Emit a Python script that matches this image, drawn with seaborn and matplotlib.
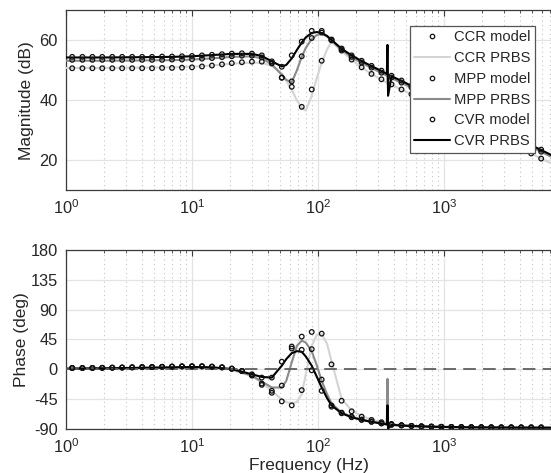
import numpy as np
import pandas as pd
import matplotlib
matplotlib.use("Agg")
import matplotlib.pyplot as plt
from matplotlib.lines import Line2D
from matplotlib.ticker import LogLocator, FixedLocator
import seaborn as sns

# ---------------- data ----------------
# model evaluation frequencies (Hz)
FREQ = [1.12, 1.35, 1.62, 1.94, 2.33, 2.79, 3.35, 4.02, 4.82, 5.79, 6.94, 8.33,
        10.0, 12.0, 14.4, 17.3, 20.7, 24.9, 29.9, 35.8, 43.0, 51.6, 61.9, 74.3,
        89.2, 107, 128, 154, 185, 222, 266, 319, 383, 460, 552, 662, 795, 954,
        1145, 1374, 1648, 1978, 2374, 2849, 3418, 4102, 4922, 5907]

CCR_MODEL_MAG = [50.7, 50.7, 50.7, 50.7, 50.7, 50.7, 50.7, 50.7, 50.7, 50.8, 50.8, 50.9,
                 51.0, 51.3, 51.6, 52.0, 52.4, 52.7, 52.9, 52.9, 52.3, 47.6, 44.5, 37.8,
                 43.6, 53.2, 60.0, 56.6, 53.6, 51.0, 48.8, 47.0, 45.3, 43.6, 42.0, 40.3,
                 38.7, 37.0, 35.4, 33.7, 32.1, 30.4, 28.8, 27.1, 25.5, 23.8, 22.2, 20.5]
MPP_MODEL_MAG = [53.5, 53.5, 53.5, 53.5, 53.5, 53.5, 53.5, 53.5, 53.5, 53.5, 53.6, 53.6,
                 53.7, 53.9, 54.1, 54.4, 54.7, 54.9, 54.9, 54.3, 52.5, 47.5, 46.3, 54.7,
                 60.8, 62.6, 60.2, 57.0, 54.5, 52.6, 50.9, 49.2, 47.6, 45.9, 44.3, 42.6,
                 41.0, 39.3, 37.7, 36.0, 34.4, 32.7, 31.1, 29.4, 27.8, 26.1, 24.5, 22.8]
CVR_MODEL_MAG = [54.5, 54.5, 54.5, 54.5, 54.5, 54.5, 54.5, 54.5, 54.5, 54.6, 54.6, 54.7,
                 54.8, 55.0, 55.2, 55.4, 55.6, 55.7, 55.6, 55.0, 53.0, 51.2, 55.0, 59.6,
                 63.2, 63.2, 60.3, 57.3, 55.0, 53.2, 51.5, 49.9, 48.2, 46.6, 44.9, 43.3,
                 41.6, 40.0, 38.3, 36.7, 35.0, 33.4, 31.7, 30.1, 28.4, 26.8, 25.1, 23.5]

CCR_MODEL_PH = [1.5, 1.5, 1.6, 1.8, 2.0, 2.2, 2.5, 2.8, 3.0, 3.3, 3.6, 3.9,
                4.0, 4.0, 3.5, 2.5, 0.5, -3, -10, -24, -36, -49, -55, -32,
                56, 53.5, 7, -48, -64, -72, -77, -80.5, -83, -85, -86, -86.7,
                -87.1, -87.4, -87.6, -87.8, -88.0, -88.1, -88.2, -88.3, -88.3, -88.4, -88.4, -88.5]
MPP_MODEL_PH = [1.5, 1.5, 1.6, 1.8, 2.0, 2.2, 2.5, 2.8, 3.0, 3.3, 3.6, 3.9,
                4.0, 4.0, 3.5, 2.5, 0.5, -3, -9, -22, -33, -25, 31, 49,
                30, -16, -55, -66, -72, -76.5, -79.5, -82, -84, -85, -86, -86.7,
                -87.1, -87.4, -87.6, -87.8, -88.0, -88.1, -88.2, -88.3, -88.3, -88.4, -88.4, -88.5]
CVR_MODEL_PH = [1.5, 1.5, 1.6, 1.8, 2.0, 2.2, 2.5, 2.8, 3.0, 3.3, 3.6, 3.9,
                4.0, 4.0, 3.5, 2.5, 0.5, -3, -8, -13, -13, 11, 34, 29,
                -2, -33, -57, -67, -73, -77, -80, -82.5, -84.5, -85.5, -86.3, -86.9,
                -87.2, -87.5, -87.7, -87.9, -88.0, -88.1, -88.2, -88.3, -88.3, -88.4, -88.4, -88.5]

# PRBS measurement frequencies (Hz)
PRBS_FREQ = [1.0, 2.0, 4.0, 7.0, 10.0, 14.4, 20.7, 29.9, 35.8, 43.0,
             51.6, 56.0, 61.9, 68.0, 74.3, 80.0, 89.2, 98.0, 107, 118,
             128, 154, 185, 222, 266, 319, 352, 356, 360, 383,
             460, 552, 795, 1145, 1648, 2374, 3418, 4922, 7100]

CCR_PRBS_MAG = [50.8, 50.8, 50.9, 51.0, 51.2, 51.6, 52.2, 52.6, 52.5, 51.5,
                49.0, 46.5, 43.5, 40.0, 37.5, 36.5, 41.5, 47.5, 52.5, 57.0,
                59.5, 56.5, 53.5, 51.0, 48.8, 46.9, 45.8, 47.5, 43.5, 45.2,
                43.6, 42.0, 38.7, 35.4, 32.1, 28.8, 25.5, 22.2, 18.9]
MPP_PRBS_MAG = [53.2, 53.2, 53.3, 53.4, 53.6, 54.0, 54.5, 54.7, 54.0, 52.0,
                48.5, 46.8, 46.0, 50.0, 54.5, 57.5, 60.5, 61.8, 62.2, 61.3,
                60.0, 56.9, 54.4, 52.5, 50.8, 49.1, 48.2, 53.0, 44.0, 47.4,
                45.8, 44.2, 40.9, 37.6, 34.3, 31.0, 27.7, 24.4, 21.1]
CVR_PRBS_MAG = [54.3, 54.3, 54.4, 54.5, 54.7, 55.1, 55.5, 55.5, 54.8, 53.0,
                51.3, 51.8, 54.0, 56.8, 59.3, 61.0, 62.5, 62.8, 62.5, 61.5,
                60.2, 57.2, 55.0, 53.1, 51.4, 49.8, 48.8, 58.5, 41.5, 48.0,
                46.5, 44.8, 41.5, 38.2, 34.9, 31.6, 28.3, 25.0, 21.7]

CCR_PRBS_PH = [0.5, 1.0, 1.6, 2.2, 2.6, 2.0, -1, -11, -21, -33,
               -46, -50, -52, -50, -38, -8, 35, 52, 53, 38,
               12, -45, -63, -71, -76.5, -80, -82, -78, -88, -83,
               -85, -86, -87.2, -87.8, -88.2, -88.4, -88.6, -88.7, -88.8]
MPP_PRBS_PH = [0.5, 1.0, 1.6, 2.3, 2.8, 2.3, -0.5, -10, -19, -28,
               -28, -18, 10, 35, 43, 40, 27, 5, -18, -38,
               -52, -66, -72, -76.5, -79.5, -82, -83.5, -15, -90, -84.2,
               -85.3, -86.2, -87.2, -87.8, -88.2, -88.4, -88.6, -88.7, -88.8]
CVR_PRBS_PH = [0.5, 1.0, 1.8, 2.5, 3.0, 2.5, 0, -8, -12, -13,
               5, 15, 24, 27, 26, 19, 5, -12, -28, -44,
               -55, -67, -73, -77, -80, -82.5, -84, -55, -90, -84.5,
               -85.5, -86.3, -87.3, -87.8, -88.2, -88.4, -88.6, -88.7, -88.8]

SERIES = ["CCR", "MPP", "CVR"]
LINE_COLORS = {"CCR": "#d4d4d4", "MPP": "#8a8a8a", "CVR": "#000000"}

# ---------------- tables ----------------
model = pd.concat([
    pd.DataFrame({"f": FREQ, "mag": m, "ph": p, "s": s})
    for s, m, p in zip(SERIES, [CCR_MODEL_MAG, MPP_MODEL_MAG, CVR_MODEL_MAG],
                       [CCR_MODEL_PH, MPP_MODEL_PH, CVR_MODEL_PH])
], ignore_index=True)
prbs = pd.concat([
    pd.DataFrame({"f": PRBS_FREQ, "mag": m, "ph": p, "s": s})
    for s, m, p in zip(SERIES, [CCR_PRBS_MAG, MPP_PRBS_MAG, CVR_PRBS_MAG],
                       [CCR_PRBS_PH, MPP_PRBS_PH, CVR_PRBS_PH])
], ignore_index=True)

# ---------------- figure ----------------
sns.set_style("white")
plt.rcParams["font.family"] = ["Liberation Sans", "DejaVu Sans"]
plt.rcParams["mathtext.fontset"] = "custom"
plt.rcParams["mathtext.rm"] = "Liberation Sans"
plt.rcParams["mathtext.it"] = "Liberation Sans:italic"
plt.rcParams["axes.unicode_minus"] = False

fig = plt.figure(figsize=(5.51, 4.73), dpi=100)
W, H = 551, 473
ax1 = fig.add_axes([66 / W, 1 - 190 / H, (551 - 66) / W, (190 - 10.5) / H])
ax2 = fig.add_axes([66 / W, 1 - 428.5 / H, (551 - 66) / W, (428.5 - 250) / H])

XMAX = 7070
TICK_FS = 11.8
LABEL_FS = 12.5

def style(ax, yticks, ylim, ylabel):
    ax.set_xscale("log")
    ax.set_xlim(1, XMAX)
    ax.set_ylim(*ylim)
    ax.yaxis.set_major_locator(FixedLocator(yticks))
    ax.xaxis.set_major_locator(LogLocator(base=10, numticks=10))
    ax.xaxis.set_minor_locator(LogLocator(base=10, subs=np.arange(2, 10), numticks=10))
    ax.grid(True, which="major", axis="both", color="#e3e3e3", lw=0.9, ls="-", zorder=0)
    ax.grid(True, which="minor", axis="x", color="#c4c4c4", lw=0.8, ls=(0, (1, 3)), zorder=0)
    ax.set_axisbelow(True)
    for side in ["top", "bottom", "left"]:
        ax.spines[side].set_color("#3a3a3a")
        ax.spines[side].set_linewidth(0.9)
    ax.spines["right"].set_visible(False)
    ax.tick_params(axis="both", which="both", direction="in", colors="#3a3a3a",
                   labelcolor="#262626", labelsize=TICK_FS, top=True)
    ax.tick_params(axis="both", which="major", length=4)
    ax.tick_params(axis="x", which="minor", length=2)
    ax.tick_params(axis="x", which="major", pad=6)
    ax.tick_params(axis="y", which="major", pad=6)
    ax.set_ylabel(ylabel, fontsize=LABEL_FS, color="#262626")
    ax.set_xlabel("")

for ax, col in [(ax1, "mag"), (ax2, "ph")]:
    sns.lineplot(data=prbs, x="f", y=col, hue="s", palette=LINE_COLORS,
                 hue_order=SERIES, sort=False, estimator=None, lw=1.5,
                 legend=False, ax=ax, zorder=3)
    sns.scatterplot(data=model, x="f", y=col, color="black", marker="o", s=11,
                    linewidth=0.9, legend=False, ax=ax, zorder=5)
    for coll in ax.collections:
        coll.set_facecolor("none")
        coll.set_edgecolor("#111111")

style(ax1, [20, 40, 60], (10, 70), "Magnitude (dB)")
style(ax2, [-90, -45, 0, 45, 90, 135, 180], (-90, 180), "Phase (deg)")
ax2.axhline(0, color="#5f5f5f", lw=1.3, ls=(0, (7, 4)), zorder=4)
ax2.set_xlabel("Frequency (Hz)", fontsize=LABEL_FS, color="#262626", labelpad=2)
ax1.yaxis.set_label_coords(-0.066, 0.5)
ax2.yaxis.set_label_coords(-0.076, 0.5)

handles = []
labels = []
for s in SERIES:
    handles.append(Line2D([], [], ls="", marker="o", ms=3.2, mfc="none", mec="#111111", mew=0.9))
    labels.append(f"{s} model")
    handles.append(Line2D([], [], color=LINE_COLORS[s], lw=1.5))
    labels.append(f"{s} PRBS")
leg = ax1.legend(handles, labels, loc="upper right", bbox_to_anchor=(0.967, 0.914),
                 fontsize=10.6, frameon=True, fancybox=False, framealpha=1,
                 edgecolor="#555555", borderpad=0.3, labelspacing=0.46,
                 handlelength=2.4, handletextpad=0.3, borderaxespad=0)
leg.get_frame().set_linewidth(0.9)
for t in leg.get_texts():
    t.set_color("#262626")
leg.set_zorder(10)

fig.savefig("out.png", dpi=100)
